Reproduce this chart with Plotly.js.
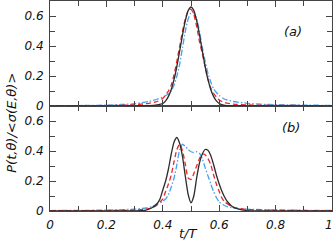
<!DOCTYPE html>
<html><head><meta charset="utf-8">
<script src="https://cdn.plot.ly/plotly-3.0.1.min.js"></script>
<style>html,body{margin:0;padding:0;background:#fff}#plot{width:334px;height:244px}</style>
</head><body><div id="plot"></div>
<script>
// Panel (a)
const tA_black = [0,0.1,0.2,0.3,0.35,0.38,0.40,0.41,0.42,0.43,0.44,0.45,0.46,0.47,0.48,0.49,0.50,0.51,0.52,0.53,0.54,0.55,0.56,0.57,0.58,0.59,0.60,0.62,0.65,0.7,0.8,0.9,1.0];
const yA_black = [0,0,0,0.001,0.003,0.008,0.017,0.034,0.064,0.11,0.177,0.265,0.368,0.475,0.57,0.636,0.66,0.636,0.57,0.475,0.368,0.265,0.177,0.11,0.064,0.034,0.017,0.004,0.001,0,0,0,0];
const tA_red = [0,0.1,0.2,0.3,0.35,0.38,0.40,0.42,0.43,0.44,0.45,0.46,0.47,0.48,0.49,0.50,0.51,0.52,0.53,0.54,0.55,0.56,0.57,0.58,0.59,0.60,0.62,0.65,0.7,0.8,0.9,1.0];
const yA_red = [0.001,0.002,0.003,0.008,0.018,0.03,0.05,0.10,0.14,0.21,0.30,0.40,0.50,0.58,0.635,0.645,0.61,0.53,0.43,0.35,0.26,0.18,0.12,0.085,0.06,0.04,0.022,0.012,0.007,0.004,0.003,0.002];
const tA_blue = [0,0.1,0.2,0.25,0.3,0.35,0.38,0.40,0.42,0.43,0.44,0.45,0.46,0.47,0.48,0.49,0.50,0.51,0.52,0.53,0.54,0.55,0.56,0.57,0.58,0.59,0.60,0.62,0.65,0.7,0.75,0.8,0.9,1.0];
const yA_blue = [0.002,0.003,0.006,0.01,0.015,0.03,0.045,0.06,0.08,0.10,0.14,0.20,0.28,0.39,0.50,0.58,0.62,0.62,0.58,0.50,0.39,0.30,0.22,0.16,0.115,0.09,0.07,0.045,0.03,0.018,0.012,0.009,0.006,0.004];
// Panel (b)
const tB_black = [0,0.1,0.2,0.3,0.34,0.36,0.38,0.39,0.40,0.41,0.42,0.43,0.44,0.45,0.46,0.47,0.48,0.49,0.50,0.51,0.52,0.53,0.54,0.55,0.56,0.57,0.58,0.59,0.60,0.61,0.62,0.63,0.65,0.68,0.7,0.8,0.9,1.0];
const yB_black = [0,0,0,0.001,0.006,0.02,0.05,0.08,0.14,0.20,0.28,0.38,0.46,0.49,0.45,0.36,0.23,0.11,0.055,0.10,0.22,0.32,0.38,0.41,0.405,0.37,0.31,0.24,0.18,0.13,0.09,0.06,0.025,0.008,0.003,0,0,0];
const tB_red = [0,0.1,0.2,0.3,0.34,0.36,0.38,0.39,0.40,0.41,0.42,0.43,0.44,0.45,0.46,0.47,0.48,0.49,0.50,0.51,0.52,0.53,0.54,0.55,0.56,0.57,0.58,0.59,0.60,0.61,0.62,0.64,0.66,0.7,0.8,0.9,1.0];
const yB_red = [0.002,0.002,0.003,0.006,0.012,0.02,0.04,0.06,0.08,0.13,0.18,0.24,0.33,0.41,0.445,0.40,0.31,0.22,0.21,0.25,0.30,0.35,0.38,0.375,0.35,0.31,0.24,0.18,0.13,0.085,0.06,0.035,0.02,0.01,0.005,0.003,0.002];
const tB_blue = [0,0.1,0.2,0.3,0.34,0.36,0.38,0.40,0.41,0.42,0.43,0.44,0.45,0.46,0.47,0.48,0.49,0.50,0.51,0.52,0.53,0.54,0.55,0.56,0.57,0.58,0.59,0.60,0.62,0.65,0.7,0.8,0.9,1.0];
const yB_blue = [0.003,0.004,0.006,0.012,0.02,0.03,0.045,0.065,0.08,0.11,0.16,0.22,0.31,0.41,0.445,0.43,0.41,0.395,0.39,0.395,0.385,0.35,0.29,0.235,0.18,0.13,0.09,0.06,0.035,0.02,0.012,0.007,0.005,0.004];

const xTickVals = [0,0.2,0.4,0.6,0.8,1];
const xTickText = ['0','0.2','0.4','0.6','0.8','1'];
const yTickVals = [0,0.2,0.4,0.6];
const yTickText = ['0','0.2','0.4','0.6'];

const FONT = 'DejaVu Sans, Arial, sans-serif';
const BLACK = '#2b2b2b', RED = '#e8282c', BLUE = '#4aa3ee';
function tr(x, y, color, dash, xa, ya) {
  return {x: x, y: y, type: 'scatter', mode: 'lines', xaxis: xa, yaxis: ya,
    line: {color: color, dash: dash, width: 1.3, shape: 'spline', smoothing: 0.6}, hoverinfo: 'skip'};
}
const data = [
  tr(tA_blue, yA_blue, BLUE, '6px,2px,1.5px,2px', 'x2', 'y2'),
  tr(tA_red, yA_red, RED, '5px,3px', 'x2', 'y2'),
  tr(tA_black, yA_black, BLACK, 'solid', 'x2', 'y2'),
  tr(tB_blue, yB_blue, BLUE, '6px,2px,1.5px,2px', 'x', 'y'),
  tr(tB_red, yB_red, RED, '5px,3px', 'x', 'y'),
  tr(tB_black, yB_black, BLACK, 'solid', 'x', 'y')
];
const tickFont = {family: FONT, size: 12, color: '#111', style: 'italic'};
const axCommon = {
  showline: true, linecolor: '#444', linewidth: 1, mirror: 'ticks',
  ticks: 'inside', ticklen: 6, tickcolor: '#444', tickwidth: 1,
  showgrid: false, zeroline: false, tickfont: tickFont,
  minor: {ticks: 'inside', ticklen: 5, tickcolor: '#444', dtick: 0.1, tick0: 0, showgrid: false}
};
const annFont = {family: FONT, size: 13, style: 'italic', color: '#111'};
const layout = {
  width: 334, height: 244,
  margin: {l: 50, r: 2, t: 1, b: 33},
  paper_bgcolor: '#fff', plot_bgcolor: '#fff',
  showlegend: false,
  xaxis: Object.assign({}, axCommon, {domain: [0, 1], range: [0, 1], anchor: 'y',
    tickmode: 'array', tickvals: xTickVals, ticktext: xTickText, ticklabelstandoff: 3}),
  yaxis: Object.assign({}, axCommon, {domain: [0, 0.5], range: [0, 0.7], anchor: 'x',
    tickmode: 'array', tickvals: yTickVals, ticktext: yTickText, ticklabelstandoff: 3}),
  xaxis2: Object.assign({}, axCommon, {domain: [0, 1], range: [0, 1], anchor: 'y2', matches: 'x',
    tickmode: 'array', tickvals: xTickVals, showticklabels: false}),
  yaxis2: Object.assign({}, axCommon, {domain: [0.5, 1], range: [0, 0.7], anchor: 'x2',
    tickmode: 'array', tickvals: yTickVals, ticktext: yTickText, ticklabelstandoff: 3}),
  annotations: [
    {text: '(a)', xref: 'paper', yref: 'paper', x: 0.9, y: 0.9, showarrow: false, font: annFont},
    {text: '(b)', xref: 'paper', yref: 'paper', x: 0.895, y: 0.4, showarrow: false, font: annFont},
    {text: '1', xref: 'x', yref: 'paper', x: 1, y: -0.025, xanchor: 'right', xshift: 3, yanchor: 'top',
      showarrow: false, font: tickFont},
    {text: 'P(t,θ)/<σ(E,θ)>', xref: 'paper', yref: 'paper', x: -0.135, y: 0.42,
      xanchor: 'center', yanchor: 'middle', textangle: -90, showarrow: false, font: annFont},
    {text: 't/T', xref: 'paper', yref: 'paper', x: 0.49, y: -0.152,
      xanchor: 'center', yanchor: 'bottom', showarrow: false, font: annFont}
  ]
};
Plotly.newPlot('plot', data, layout, {staticPlot: true, displayModeBar: false});
</script></body></html>
